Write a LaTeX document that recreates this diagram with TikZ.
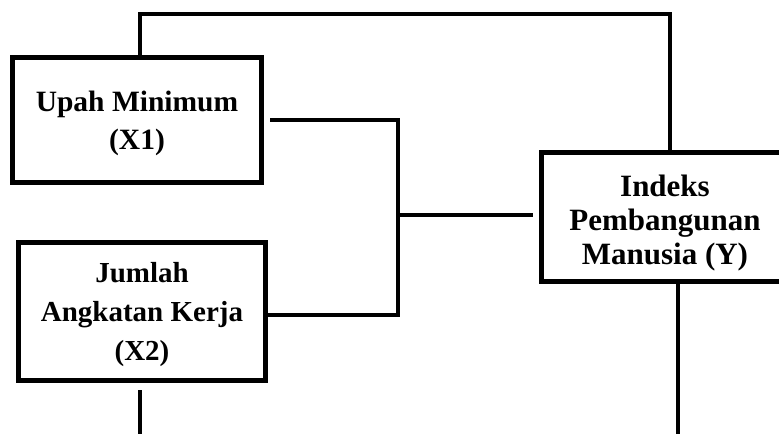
\documentclass[tikz,border=0pt]{standalone}
\usepackage{fontspec}
\setmainfont{Liberation Serif}
\tikzset{
  varbox/.style={draw=black, line width=5pt, fill=white, rectangle, inner sep=0pt},
  boxtext/.style={align=center, inner sep=0pt, font=\bfseries},
  link/.style={draw=black, line width=3.6pt, line join=miter}
}
\begin{document}
\begin{tikzpicture}[x=1pt, y=-1pt]
  \useasboundingbox (0,0) rectangle (779,434);
  \clip (0,0) rectangle (779,434);

  % junction points of the connectors
  \coordinate (tl) at (140,14);
  \coordinate (tr) at (670,14);
  \coordinate (j1) at (398,120);
  \coordinate (j2) at (398,315);
  \coordinate (jm) at (398,215);
  \coordinate (e1) at (270,120);
  \coordinate (e3) at (533,215);
  \coordinate (b2) at (140,390);
  \coordinate (b2end) at (140,434);
  \coordinate (b3end) at (678,434);

  % variable boxes, each with its centred caption
  \node[varbox, minimum width=249pt, minimum height=125pt,
        label={[boxtext, yshift=-3pt, font=\bfseries\fontsize{29.5}{38}\selectfont]center:{Upah Minimum\\(X1)}}]
    (x1) at (137,120) {};
  \node[varbox, minimum width=247pt, minimum height=138pt,
        label={[boxtext, yshift=-3pt, font=\bfseries\fontsize{29}{39}\selectfont]center:{Jumlah\\Angkatan Kerja\\(X2)}}]
    (x2) at (142,311.5) {};
  \node[varbox, minimum width=247pt, minimum height=129pt,
        label={[boxtext, yshift=-6pt, font=\bfseries\fontsize{31}{34}\selectfont]center:{Indeks\\Pembangunan\\Manusia (Y)}}]
    (y) at (665,217) {};

  % connectors
  \draw[link] (tl |- x1.north) -- (tl) -- (tr) -- (tr |- y.north);
  \draw[link] (e1) -- (j1) -- (j2) -- (j2 -| x2.east);
  \draw[link] (jm) -- (e3);
  \draw[link] (b2) -- (b2end);
  \draw[link] (b3end |- y.south) -- (b3end);
\end{tikzpicture}
\end{document}
